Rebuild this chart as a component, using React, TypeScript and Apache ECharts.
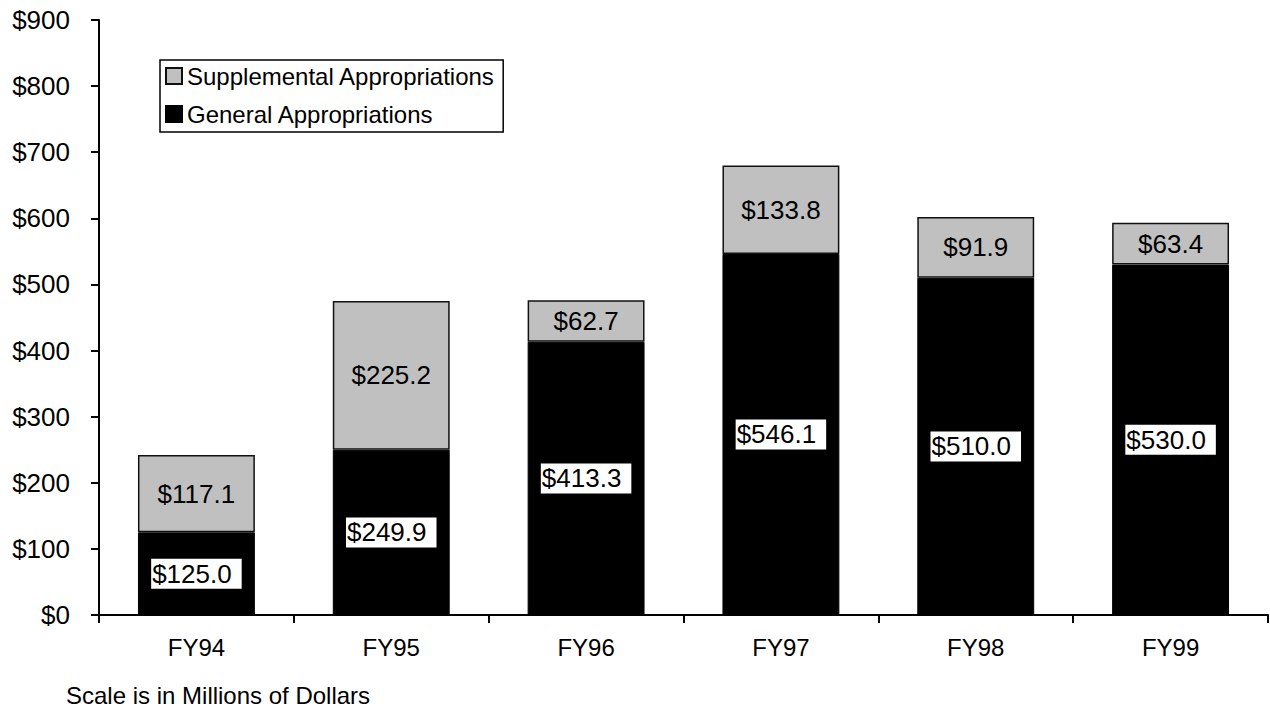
import React, { useEffect, useRef } from "react";
import * as echarts from "echarts";

const categories = ["FY94", "FY95", "FY96", "FY97", "FY98", "FY99"];
const generalValues = [125.0, 249.9, 413.3, 546.1, 510.0, 530.0];
const supplementalValues = [117.1, 225.2, 62.7, 133.8, 91.9, 63.4];
const footnote = "Scale is in Millions of Dollars";

const FONT = "'Liberation Sans', Arial, Helvetica, sans-serif";

export default function App() {
  const ref = useRef<HTMLDivElement>(null);
  useEffect(() => {
    if (!ref.current) return;
    const chart = echarts.init(ref.current, undefined, { renderer: "svg" });
    const fmt = (p: any) => "$" + Number(p.value).toFixed(1);
    chart.setOption({
      animation: false,
      textStyle: { fontFamily: FONT },
      grid: { left: 99, top: 20, right: 2, bottom: 93, containLabel: false },
      legend: {
        orient: "vertical",
        left: 160,
        top: 60,
        data: ["Supplemental Appropriations", "General Appropriations"],
        borderColor: "#000",
        borderWidth: 1.5,
        padding: [4, 8, 6, 5],
        itemGap: 14,
        itemWidth: 16,
        itemHeight: 16,
        icon: "rect",
        textStyle: { fontSize: 24, color: "#000", fontFamily: FONT },
      },
      graphic: [
        {
          type: "text",
          left: 66,
          top: 683,
          style: { text: footnote, fontSize: 24, fill: "#000", fontFamily: FONT },
        },
      ],
      xAxis: {
        type: "category",
        data: categories,
        axisLine: { lineStyle: { color: "#000", width: 2 } },
        axisTick: { show: true, length: 8, lineStyle: { color: "#000", width: 2 } },
        axisLabel: { fontSize: 24, color: "#000", margin: 20, fontFamily: FONT },
      },
      yAxis: {
        type: "value",
        min: 0,
        max: 900,
        interval: 100,
        splitLine: { show: false },
        axisLine: { show: true, lineStyle: { color: "#000", width: 2 } },
        axisTick: { show: true, length: 8, lineStyle: { color: "#000", width: 2 } },
        axisLabel: {
          fontSize: 26,
          color: "#000",
          margin: 29,
          fontFamily: FONT,
          formatter: (v: number) => "$" + v,
        },
      },
      series: [
        {
          name: "General Appropriations",
          type: "bar",
          stack: "total",
          barWidth: "60%",
          data: generalValues,
          itemStyle: { color: "#000", borderColor: "#000", borderWidth: 1 },
          label: {
            show: true,
            position: "inside",
            formatter: fmt,
            color: "#000",
            fontSize: 26,
            fontFamily: FONT,
            backgroundColor: "#fff",
            padding: [2, 10, 2, 1],
          },
        },
        {
          name: "Supplemental Appropriations",
          type: "bar",
          stack: "total",
          barWidth: "60%",
          data: supplementalValues,
          itemStyle: { color: "#c0c0c0", borderColor: "#111", borderWidth: 1.5 },
          label: {
            show: true,
            position: "inside",
            formatter: fmt,
            color: "#000",
            fontSize: 26,
            fontFamily: FONT,
          },
        },
      ],
    });
    return () => chart.dispose();
  }, []);
  return (
    <div
      ref={ref}
      style={{ position: "absolute", left: 0, top: 0, width: 1270, height: 708, background: "#fff" }}
    />
  );
}
